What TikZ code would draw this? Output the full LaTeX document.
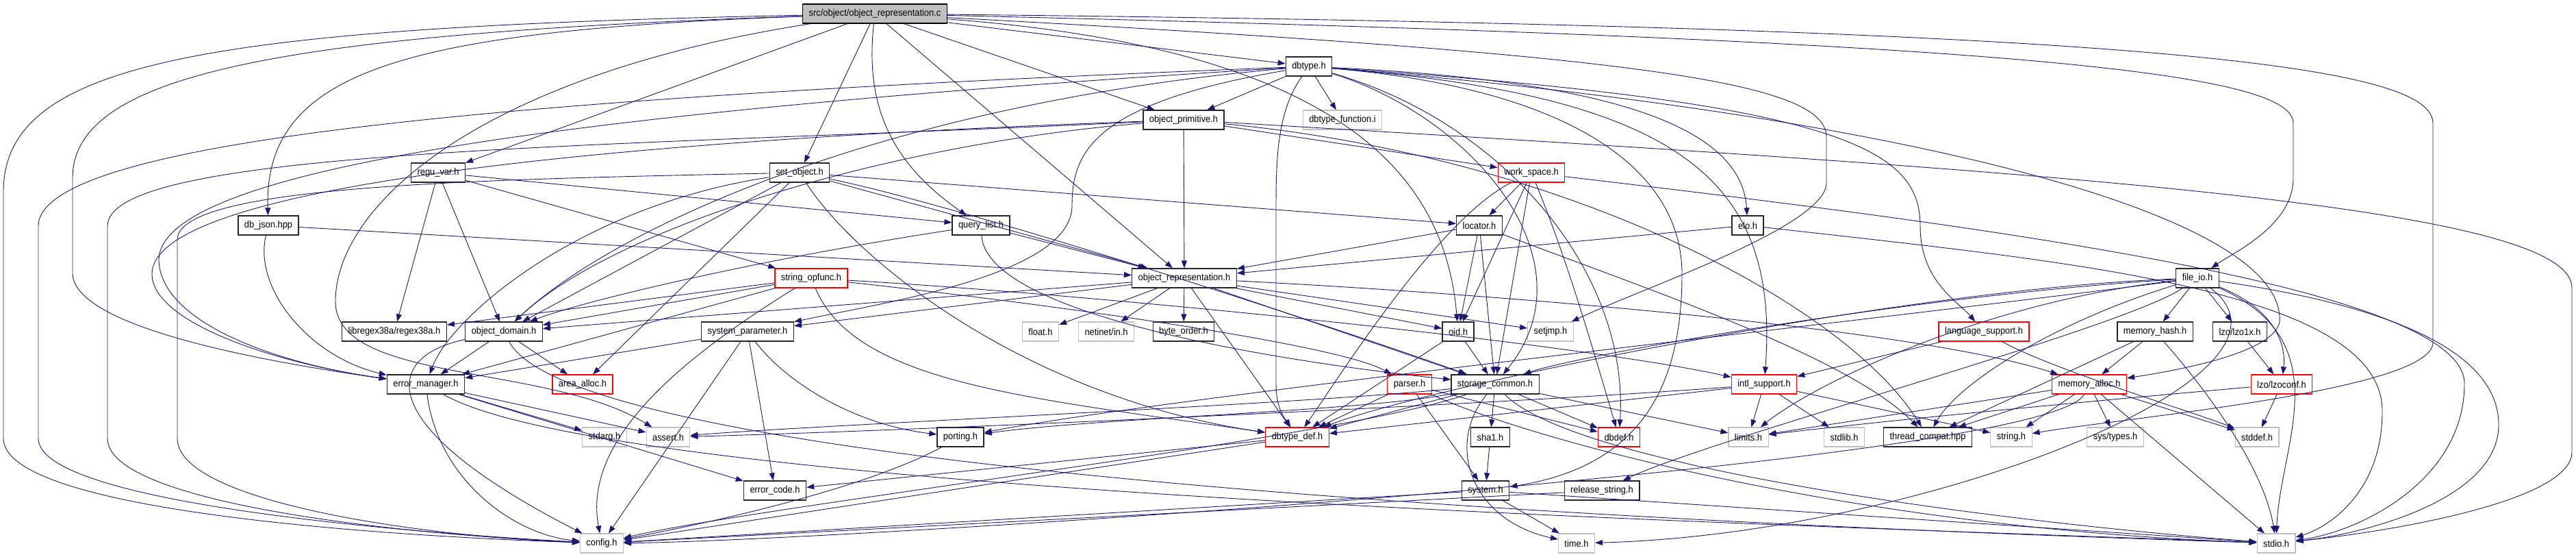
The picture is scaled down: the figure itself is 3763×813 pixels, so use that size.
\documentclass[tikz,border=0pt]{standalone}
\usepackage{fontspec}
\setmainfont[FakeStretch=0.92]{Liberation Sans}
\usetikzlibrary{arrows.meta}
\definecolor{edgeblue}{HTML}{191970}
\definecolor{boxgray}{HTML}{BFBFBF}

\begin{document}
\begin{tikzpicture}[
  x=1pt,y=-1pt,
  base/.style={draw,fill=white,minimum height=28pt,inner xsep=9pt,inner ysep=2pt,line width=1.3pt,font=\fontsize{14}{16}\selectfont},
  hdr/.style={base,draw=black!85},
  sys/.style={base,draw=boxgray,line width=1.1pt},
  trunc/.style={base,draw=red},
  top/.style={base,fill=boxgray},
  dep/.style={-{Triangle[length=11pt,width=8pt]},draw=edgeblue,line width=0.9pt}
]
  \useasboundingbox (0,0) rectangle (3763,813);

  \node[top] (root) at (1278,20) {src/object/object\_representation.c};
  \node[hdr] (dbtype) at (1912,97) {dbtype.h};
  \node[hdr] (oprim) at (1729,175) {object\_primitive.h};
  \node[sys] (dbfunc) at (1961,175) {dbtype\_function.i};
  \node[hdr] (reguvar) at (640,252) {regu\_var.h};
  \node[hdr] (setobj) at (1168,252) {set\_object.h};
  \node[trunc] (wspace) at (2237,252) {work\_space.h};
  \node[hdr] (dbjson) at (392,329) {db\_json.hpp};
  \node[hdr] (qlist) at (1433,329) {query\_list.h};
  \node[hdr] (locator) at (2161,329) {locator.h};
  \node[hdr] (elo) at (2553,329) {elo.h};
  \node[trunc] (stropf) at (1185,406) {string\_opfunc.h};
  \node[hdr] (orep) at (1730,406) {object\_representation.h};
  \node[hdr] (fileio) at (3210,406) {file\_io.h};
  \node[hdr] (regex) at (576,484) {libregex38a/regex38a.h};
  \node[hdr] (odomain) at (736,484) {object\_domain.h};
  \node[hdr] (syspar) at (1092,484) {system\_parameter.h};
  \node[sys] (float) at (1520,484) {float.h};
  \node[sys] (netin) at (1616,484) {netinet/in.h};
  \node[hdr] (border) at (1729,484) {byte\_order.h};
  \node[hdr] (oid) at (2130,484) {oid.h};
  \node[sys] (setjmp) at (2265,484) {setjmp.h};
  \node[trunc] (langsup) at (2898,484) {language\_support.h};
  \node[hdr] (mhash) at (3148,484) {memory\_hash.h};
  \node[hdr] (lzox) at (3272,484) {lzo/lzo1x.h};
  \node[hdr] (errmgr) at (622,561) {error\_manager.h};
  \node[trunc] (aalloc) at (851,561) {area\_alloc.h};
  \node[trunc] (parser) at (2059,561) {parser.h};
  \node[hdr] (stcommon) at (2184,561) {storage\_common.h};
  \node[trunc] (intl) at (2577,561) {intl\_support.h};
  \node[trunc] (memalloc) at (3052,561) {memory\_alloc.h};
  \node[trunc] (lzoconf) at (3333,561) {lzo/lzoconf.h};
  \node[sys] (stdarg) at (883,638) {stdarg.h};
  \node[sys] (assert) at (976,638) {assert.h};
  \node[hdr] (porting) at (1403,638) {porting.h};
  \node[trunc] (tdef) at (1895,638) {dbtype\_def.h};
  \node[hdr] (sha) at (2177,638) {sha1.h};
  \node[trunc] (dbdef) at (2365,638) {dbdef.h};
  \node[sys] (limits) at (2554,638) {limits.h};
  \node[sys] (stdlib) at (2694,638) {stdlib.h};
  \node[hdr] (tcompat) at (2816,638) {thread\_compat.hpp};
  \node[sys] (string) at (2938,638) {string.h};
  \node[sys] (systypes) at (3090,638) {sys/types.h};
  \node[sys] (stddef) at (3297,638) {stddef.h};
  \node[hdr] (errcode) at (1132,716) {error\_code.h};
  \node[hdr] (system) at (2170,716) {system.h};
  \node[hdr] (relstr) at (2340,716) {release\_string.h};
  \node[sys] (config) at (879,793) {config.h};
  \node[sys] (time) at (2303,793) {time.h};
  \node[sys] (stdio) at (3325,793) {stdio.h};

  \draw[dep] (root) .. controls (300,40) and (5,90) .. (5,280) -- (5,640) .. controls (5,740) and (500,780) .. (config);
  \draw[dep] (root) .. controls (400,50) and (106,110) .. (106,260) -- (106,400) .. controls (110,480) and (400,530) .. (errmgr);
  \draw[dep] (root) .. controls (600,45) and (385,100) .. (dbjson);
  \draw[dep] (root) .. controls (700,110) and (490,300) .. (490,440) .. controls (490,560) and (800,530) .. (assert);
  \draw[dep] (root) -- (reguvar);
  \draw[dep] (root) -- (setobj);
  \draw[dep] (root) .. controls (1265,140) and (1290,230) .. (qlist);
  \draw[dep] (root) -- (orep);
  \draw[dep] (root) -- (oprim);
  \draw[dep] (root) -- (dbtype);
  \draw[dep] (root) .. controls (1950,70) and (2110,250) .. (oid);
  \draw[dep] (root) .. controls (2400,80) and (2668,120) .. (2668,200) -- (2668,267) .. controls (2668,330) and (2400,420) .. (setjmp);
  \draw[dep] (root) .. controls (3000,60) and (3350,110) .. (3350,180) -- (3350,260) .. controls (3350,330) and (3260,370) .. (fileio);
  \draw[dep] (root) .. controls (3200,40) and (3554,100) .. (3554,180) -- (3554,500) .. controls (3554,570) and (3100,610) .. (string);

  \draw[dep] (dbtype) -- (dbfunc);
  \draw[dep] (dbtype) -- (oprim);
  \draw[dep] (dbtype) .. controls (800,140) and (56,200) .. (56,330) -- (56,640) .. controls (56,730) and (550,775) .. (config);
  \draw[dep] (dbtype) .. controls (800,165) and (232,250) .. (232,380) .. controls (235,470) and (400,530) .. (errmgr);
  \draw[dep] (dbtype) .. controls (1300,150) and (900,330) .. (odomain);
  \draw[dep] (dbtype) .. controls (1600,150) and (1566,220) .. (1566,300) .. controls (1566,400) and (1300,440) .. (syspar);
  \draw[dep] (dbtype) .. controls (1868,160) and (1864,220) .. (1864,300) -- (1864,560) .. controls (1864,600) and (1880,615) .. (tdef);
  \draw[dep] (dbtype) .. controls (2400,120) and (2545,200) .. (elo);
  \draw[dep] (dbtype) .. controls (2200,180) and (2380,400) .. (dbdef);
  \draw[dep] (dbtype) .. controls (2300,130) and (2457,250) .. (2457,400) .. controls (2457,560) and (2400,680) .. (system);
  \draw[dep] (dbtype) .. controls (2450,140) and (2600,260) .. (intl);
  \draw[dep] (dbtype) .. controls (2700,150) and (2805,220) .. (2805,330) .. controls (2805,410) and (2860,440) .. (langsup);
  \draw[dep] (dbtype) .. controls (2700,160) and (3340,300) .. (3330,470) .. controls (3320,520) and (3150,545) .. (memalloc);
  \draw[dep] (dbtype) .. controls (2150,170) and (2330,380) .. (stcommon);

  \draw[dep] (oprim) -- (orep);
  \draw[dep] (oprim) .. controls (900,215) and (157,215) .. (157,330) -- (157,640) .. controls (157,730) and (550,778) .. (config);
  \draw[dep] (oprim) .. controls (900,205) and (222,270) .. (222,400) .. controls (222,470) and (400,530) .. (errmgr);
  \draw[dep] (oprim) -- (wspace);
  \draw[dep] (oprim) .. controls (2300,230) and (2700,450) .. (tcompat);
  \draw[dep] (oprim) .. controls (3000,250) and (3757,300) .. (3757,420) -- (3757,660) .. controls (3757,730) and (3500,775) .. (stdio);
  \draw[dep] (oprim) .. controls (1300,210) and (900,330) .. (odomain);

  \draw[dep] (reguvar) -- (regex);
  \draw[dep] (reguvar) -- (odomain);
  \draw[dep] (reguvar) -- (qlist);
  \draw[dep] (reguvar) -- (stropf);

  \draw[dep] (setobj) .. controls (700,262) and (259,270) .. (259,350) -- (259,640) .. controls (259,730) and (600,782) .. (config);
  \draw[dep] (setobj) .. controls (850,300) and (660,460) .. (errmgr);
  \draw[dep] (setobj) -- (odomain);
  \draw[dep] (setobj) -- (locator);
  \draw[dep] (setobj) -- (orep);
  \draw[dep] (setobj) -- (aalloc);
  \draw[dep] (setobj) .. controls (1250,380) and (1500,580) .. (tdef);
  \draw[dep] (setobj) .. controls (1400,300) and (1900,460) .. (stcommon);

  \draw[dep] (wspace) -- (locator);
  \draw[dep] (wspace) -- (oid);
  \draw[dep] (wspace) -- (stcommon);
  \draw[dep] (wspace) .. controls (2100,320) and (1950,560) .. (tdef);
  \draw[dep] (wspace) .. controls (2290,380) and (2330,520) .. (dbdef);
  \draw[dep] (wspace) .. controls (2900,330) and (3600,420) .. (3600,560) .. controls (3600,700) and (3450,775) .. (stdio);

  \draw[dep] (dbjson) .. controls (370,420) and (450,520) .. (errmgr);
  \draw[dep] (dbjson) -- (orep);

  \draw[dep] (qlist) .. controls (1100,380) and (850,440) .. (odomain);
  \draw[dep] (qlist) .. controls (1440,450) and (1800,520) .. (stcommon);
  \draw[dep] (qlist) -- (orep);

  \draw[dep] (locator) -- (orep);
  \draw[dep] (locator) -- (oid);
  \draw[dep] (locator) -- (stcommon);
  \draw[dep] (locator) .. controls (2400,420) and (2700,520) .. (tcompat);

  \draw[dep] (elo) -- (orep);
  \draw[dep] (elo) .. controls (3000,380) and (3480,420) .. (3480,600) .. controls (3480,720) and (3400,770) .. (stdio);

  \draw[dep] (stropf) -- (regex);
  \draw[dep] (stropf) -- (odomain);
  \draw[dep] (stropf) -- (errmgr);
  \draw[dep] (stropf) .. controls (1000,520) and (850,640) .. (config);
  \draw[dep] (stropf) .. controls (1250,560) and (1500,580) .. (tdef);
  \draw[dep] (stropf) .. controls (1500,440) and (1950,500) .. (parser);
  \draw[dep] (stropf) .. controls (1600,430) and (2300,500) .. (intl);

  \draw[dep] (orep) -- (border);
  \draw[dep] (orep) -- (float);
  \draw[dep] (orep) -- (netin);
  \draw[dep] (orep) -- (odomain);
  \draw[dep] (orep) -- (tdef);
  \draw[dep] (orep) -- (oid);
  \draw[dep] (orep) -- (setjmp);
  \draw[dep] (orep) -- (stcommon);
  \draw[dep] (orep) -- (syspar);
  \draw[dep] (orep) .. controls (2200,430) and (2800,480) .. (memalloc);

  \draw[dep] (fileio) .. controls (2800,420) and (2100,560) .. (tdef);
  \draw[dep] (fileio) .. controls (2800,430) and (2300,520) .. (stcommon);
  \draw[dep] (fileio) .. controls (2800,460) and (1700,580) .. (porting);
  \draw[dep] (fileio) .. controls (3000,470) and (2860,560) .. (tcompat);
  \draw[dep] (fileio) .. controls (3100,480) and (2500,640) .. (relstr);
  \draw[dep] (fileio) -- (mhash);
  \draw[dep] (fileio) -- (lzox);
  \draw[dep] (fileio) .. controls (3320,450) and (3340,500) .. (lzoconf);
  \draw[dep] (fileio) .. controls (3450,440) and (3650,500) .. (3650,620) .. controls (3650,730) and (3450,780) .. (stdio);
  \draw[dep] (fileio) .. controls (3420,500) and (3330,650) .. (stdio);
  \draw[dep] (fileio) .. controls (3400,550) and (2800,780) .. (time);
  \draw[dep] (fileio) .. controls (2900,440) and (2650,560) .. (limits);

  \draw[dep] (odomain) -- (errmgr);
  \draw[dep] (odomain) -- (aalloc);
  \draw[dep] (odomain) .. controls (560,520) and (540,620) .. (config);
  \draw[dep] (odomain) .. controls (850,700) and (2600,770) .. (stdio);

  \draw[dep] (syspar) -- (errmgr);
  \draw[dep] (syspar) -- (config);
  \draw[dep] (syspar) -- (errcode);
  \draw[dep] (syspar) .. controls (1150,560) and (1250,620) .. (porting);

  \draw[dep] (errmgr) -- (stdarg);
  \draw[dep] (errmgr) -- (assert);
  \draw[dep] (errmgr) -- (errcode);
  \draw[dep] (errmgr) .. controls (640,700) and (750,780) .. (config);
  \draw[dep] (errmgr) .. controls (900,720) and (2600,765) .. (stdio);

  \draw[dep] (parser) -- (tdef);
  \draw[dep] (parser) -- (system);
  \draw[dep] (parser) -- (dbdef);
  \draw[dep] (parser) .. controls (2230,640) and (2700,770) .. (stdio);

  \draw[dep] (stcommon) -- (tdef);
  \draw[dep] (stcommon) -- (sha);
  \draw[dep] (stcommon) -- (dbdef);
  \draw[dep] (stcommon) -- (limits);
  \draw[dep] (stcommon) .. controls (2110,650) and (2150,760) .. (time);
  \draw[dep] (stcommon) .. controls (1960,640) and (1100,740) .. (config);
  \draw[dep] (stcommon) .. controls (2300,680) and (2900,760) .. (stdio);
  \draw[dep] (stcommon) .. controls (2000,600) and (1600,610) .. (porting);
  \draw[dep] (stcommon) .. controls (1900,590) and (1200,620) .. (assert);

  \draw[dep] (intl) -- (limits);
  \draw[dep] (intl) -- (stdlib);
  \draw[dep] (intl) -- (tdef);
  \draw[dep] (intl) .. controls (2200,590) and (1300,630) .. (assert);
  \draw[dep] (intl) -- (string);

  \draw[dep] (memalloc) -- (tcompat);
  \draw[dep] (memalloc) -- (string);
  \draw[dep] (memalloc) -- (systypes);
  \draw[dep] (memalloc) -- (stddef);
  \draw[dep] (memalloc) -- (stdio);
  \draw[dep] (memalloc) -- (limits);
  \draw[dep] (memalloc) .. controls (2990,680) and (1200,790) .. (config);

  \draw[dep] (mhash) -- (memalloc);
  \draw[dep] (mhash) -- (tcompat);
  \draw[dep] (mhash) .. controls (3250,600) and (3310,700) .. (stdio);

  \draw[dep] (langsup) -- (intl);
  \draw[dep] (langsup) .. controls (3000,540) and (3200,600) .. (stddef);

  \draw[dep] (lzox) -- (lzoconf);
  \draw[dep] (lzoconf) -- (stddef);
  \draw[dep] (lzoconf) .. controls (3000,590) and (2700,620) .. (limits);

  \draw[dep] (oid) -- (tdef);
  \draw[dep] (oid) -- (stcommon);
  \draw[dep] (porting) .. controls (1250,720) and (1000,770) .. (config);
  \draw[dep] (sha) -- (system);
  \draw[dep] (system) -- (time);
  \draw[dep] (system) -- (stdio);
  \draw[dep] (system) -- (config);
  \draw[dep] (relstr) -- (config);
  \draw[dep] (tdef) -- (errcode);
  \draw[dep] (tdef) -- (config);
\end{tikzpicture}
\end{document}
